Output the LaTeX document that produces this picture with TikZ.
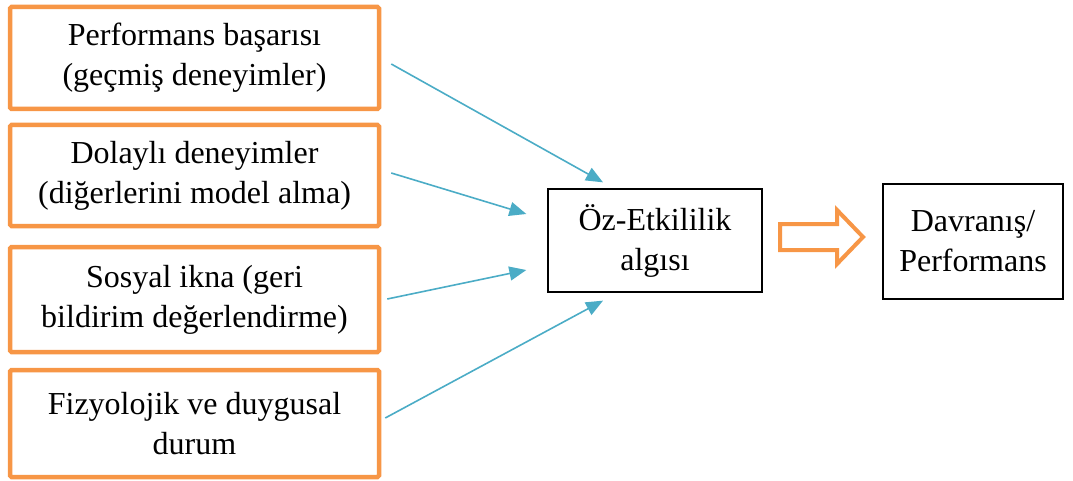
\documentclass[tikz,border=0pt]{standalone}
\usepackage{fontspec}
\setmainfont{Liberation Serif}
\usetikzlibrary{calc,arrows.meta}
\definecolor{srcorange}{HTML}{F79646}
\definecolor{linkblue}{HTML}{4BACC6}
\tikzset{
  srcbox/.style={draw=srcorange, line width=4.5pt, rounded corners=1.5pt, fill=white,
    align=center, inner sep=0pt, minimum width=369pt,
    font=\fontsize{32}{40}\selectfont},
  plainbox/.style={draw=black, line width=1.3pt, fill=white, align=center, inner sep=0pt,
    font=\fontsize{32}{40}\selectfont},
  link/.style={draw=linkblue, line width=1.6pt, -{Triangle[length=17pt,width=14pt]}},
  hollowarrow/.style={draw=srcorange, line width=4pt, fill=white, line join=miter}
}
\begin{document}
\begin{tikzpicture}[x=1pt,y=-1pt]
\useasboundingbox (0,0) rectangle (1073,481);

% four sources of self-efficacy
\node[srcbox, minimum height=102pt] (b1) at (194.5,58)
  {Performans başarısı\\(geçmiş deneyimler)};
\node[srcbox, minimum height=101pt] (b2) at (194.5,175.5)
  {Dolaylı deneyimler\\(diğerlerini model alma)};
\node[srcbox, minimum height=105pt] (b3) at (194.5,299.5)
  {Sosyal ikna (geri\\bildirim değerlendirme)};
\node[srcbox, minimum height=107pt] (b4) at (194.5,423.5)
  {Fizyolojik ve duygusal\\durum};

% perception and outcome
\node[plainbox, minimum width=214pt, minimum height=103pt] (mid) at (655,240.5)
  {Öz-Etkililik\\algısı};
\node[plainbox, minimum width=180pt, minimum height=115pt] (out) at (973,241.5)
  {Davranış/\\Performans};

% connector end points
\coordinate (s1) at ($(b1.east)+(10,6)$);
\coordinate (s2) at ($(b2.east)+(10,-2.5)$);
\coordinate (s3) at ($(b3.east)+(6,-0.5)$);
\coordinate (s4) at ($(b4.east)+(4,-5.5)$);
\coordinate (t1) at ($(mid.north)+(-52,-6)$);
\coordinate (t2) at ($(mid.west)+(-21,-26.5)$);
\coordinate (t3) at ($(mid.west)+(-21,29.5)$);
\coordinate (t4) at ($(mid.south)+(-52,8)$);

\draw[link] (s1) -- (t1);
\draw[link] (s2) -- (t2);
\draw[link] (s3) -- (t3);
\draw[link] (s4) -- (t4);

% hollow block arrow
\draw[hollowarrow] (780,224) -- (837,224) -- (837,210) -- (863,237)
  -- (837,264) -- (837,250) -- (780,250) -- cycle;
\end{tikzpicture}
\end{document}
